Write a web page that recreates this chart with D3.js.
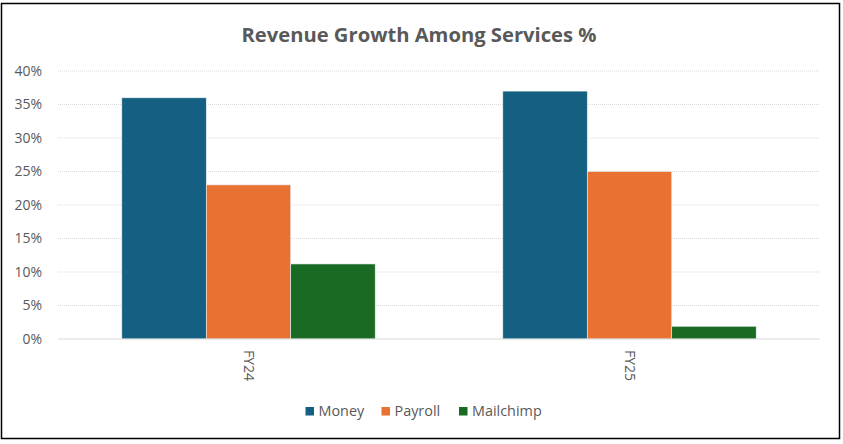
<!DOCTYPE html>
<html>
<head>
<meta charset="utf-8">
<script src="https://cdn.jsdelivr.net/npm/d3@7"></script>
<style>
    body { margin: 0; background: #fff; }
    text { font-family: "Open Sans", "Noto Sans", sans-serif; fill: #595959; }
</style>
</head>
<body>
<svg id="chart" width="843" height="444"></svg>
<script>

// Data

const categories = ["FY24", "FY25"];
const series = ["Money", "Payroll", "Mailchimp"];
const money = [36, 37];
const payroll = [23, 25];
const mailchimp = [11.2, 1.9];
const yTicks = [0, 5, 10, 15, 20, 25, 30, 35, 40];

const colors = ["#156082", "#E97132", "#196B24"];
const values = [money, payroll, mailchimp];

const svg = d3.select("#chart");

const m = { left: 58, right: 23, top: 71, bottom: 105 };
const width = 843, height = 444;

// Border

svg.append("rect")
    .attr("x", 1.5).attr("y", 3.5)
    .attr("width", 838).attr("height", 435)
    .attr("fill", "#fff")
    .attr("stroke", "#000")
    .attr("stroke-width", 1.5);

// Scales

const x = d3.scaleBand()
    .domain(categories)
    .range([m.left, width - m.right])
    .paddingInner(0.335)
    .paddingOuter(0.1675);

const xs = d3.scaleBand()
    .domain(series)
    .range([0, x.bandwidth()]);

const y = d3.scaleLinear()
    .domain([0, 40])
    .range([height - m.bottom, m.top]);

// Grid

svg.append("g")
    .selectAll("line")
    .data(yTicks.filter(d => d > 0))
    .join("line")
    .attr("x1", m.left).attr("x2", width - m.right)
    .attr("y1", d => y(d)).attr("y2", d => y(d))
    .attr("stroke", "#d9d9d9")
    .attr("stroke-dasharray", "1,1");

// Y axis labels

const yAxis = d3.axisLeft(y)
    .tickValues(yTicks)
    .tickFormat(d => d + "%")
    .tickSize(0)
    .tickPadding(16);

svg.append("g")
    .attr("transform", `translate(${m.left},0)`)
    .call(yAxis)
    .call(g => g.select(".domain").remove())
    .selectAll("text")
    .style("font-size", "14px")
    .attr("fill", "#595959");

// Bars

const groups = svg.append("g")
    .selectAll("g")
    .data(categories)
    .join("g")
    .attr("transform", d => `translate(${x(d)},0)`);

groups.selectAll("rect")
    .data((c, i) => series.map((s, j) => ({ s, j, v: values[j][i] })))
    .join("rect")
    .attr("x", d => xs(d.s))
    .attr("y", d => y(d.v))
    .attr("width", xs.bandwidth())
    .attr("height", d => y(0) - y(d.v))
    .attr("fill", d => colors[d.j])
    .attr("stroke", "#e8eef0")
    .attr("stroke-width", 0.6);

// Baseline

svg.append("line")
    .attr("x1", m.left).attr("x2", width - m.right)
    .attr("y1", y(0)).attr("y2", y(0))
    .attr("stroke", "#d9d9d9")
    .attr("stroke-width", 1);

// X axis labels (rotated)

svg.append("g")
    .selectAll("text")
    .data(categories)
    .join("text")
    .attr("transform", d => `translate(${x(d) + x.bandwidth() / 2},${y(0) + 11}) rotate(90)`)
    .attr("dy", "0.35em")
    .style("font-size", "14px")
    .text(d => d);

// Title

svg.append("text")
    .attr("x", 419)
    .attr("y", 42)
    .attr("text-anchor", "middle")
    .style("font-size", "20.2px")
    .style("font-weight", "bold")
    .text("Revenue Growth Among Services %");

// Legend

const legendX = [305.5, 381.5, 459];

const legend = svg.append("g")
    .selectAll("g")
    .data(series)
    .join("g")
    .attr("transform", (d, i) => `translate(${legendX[i]},407)`);

legend.append("rect")
    .attr("width", 8.5).attr("height", 8.5)
    .attr("fill", (d, i) => colors[i]);

legend.append("text")
    .attr("x", 13)
    .attr("y", 8.9)
    .style("font-size", "14.4px")
    .text(d => d);

</script>
</body>
</html>
